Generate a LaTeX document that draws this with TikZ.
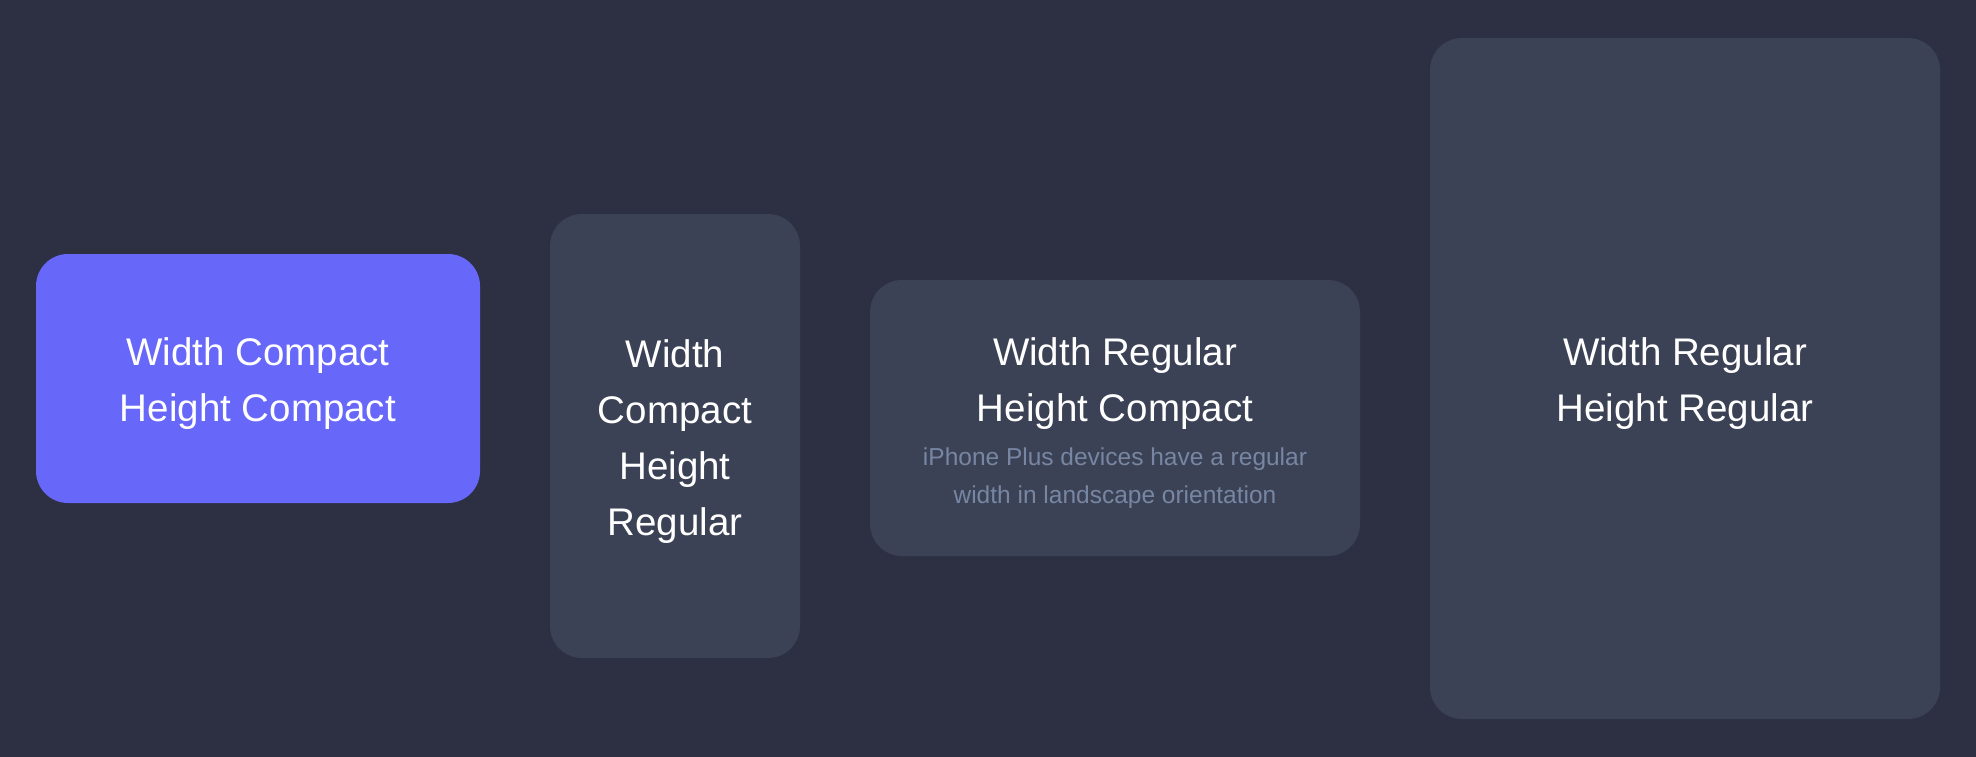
\documentclass[tikz,border=0pt]{standalone}
\usepackage{fontspec}
\setmainfont{Liberation Sans}
\usepackage{tikz}
\usetikzlibrary{positioning}
\definecolor{bgnavy}{HTML}{2D3043}
\definecolor{cardgrey}{HTML}{3C4255}
\definecolor{cardblue}{HTML}{6767FA}
\definecolor{notegrey}{HTML}{7786A2}
\newcommand{\notefont}{\fontsize{24.5}{38}\selectfont\color{notegrey}}
\newcommand{\topgap}{\rule{0pt}{38pt}}
\tikzstyle{card} = [rectangle, rounded corners=32pt, fill=cardgrey, text=white, align=center, inner sep=0pt, outer sep=0pt, font=\fontsize{38.5}{56}\selectfont]
\tikzstyle{active} = [card, fill=cardblue]

\begin{document}
\begin{tikzpicture}[x=1pt, y=-1pt, node distance=70pt]

\fill [bgnavy] (0,0) rectangle (1976,757);

\node (wcHc) [active, minimum width=444pt, minimum height=249pt] at (258,378.5) {\topgap Width Compact\\Height Compact};
\node (wcHr) [card, minimum width=250pt, minimum height=444pt, right=of wcHc, yshift=-57.5pt] {\topgap Width\\Compact\\Height\\Regular};
\node (wrHc) [card, minimum width=490pt, minimum height=276pt, right=of wcHr, yshift=18pt] {\topgap Width Regular\\Height Compact\\[-12pt]{\notefont iPhone Plus devices have a regular}\\[-18pt]{\notefont width in landscape orientation}};
\node (wrHr) [card, minimum width=510pt, minimum height=681pt, right=of wrHc, yshift=39.5pt] {\topgap Width Regular\\Height Regular};

\end{tikzpicture}
\end{document}
